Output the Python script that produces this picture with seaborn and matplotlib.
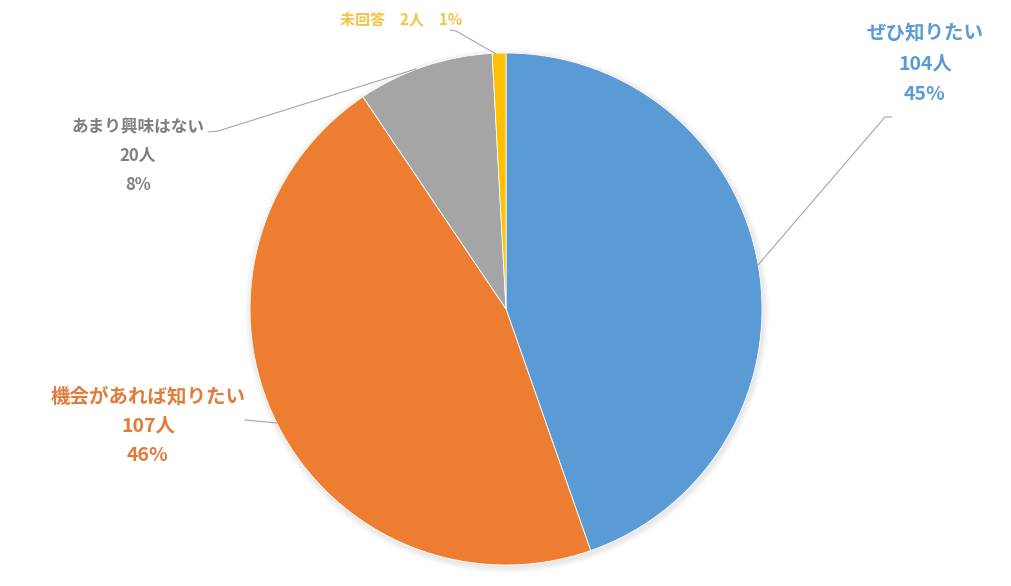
import numpy as np
import matplotlib
matplotlib.use("Agg")
import matplotlib.pyplot as plt
import seaborn as sns
from matplotlib.patches import Circle

categories = ["ぜひ知りたい", "機会があれば知りたい", "あまり興味はない", "未回答"]
counts = [104, 107, 20, 2]
percents = ["45%", "46%", "8%", "1%"]
colors = ["#5B9BD5", "#ED7D31", "#A5A5A5", "#FFC000"]
text_colors = ["#5B9BD5", "#E07B39", "#7F7F7F", "#F5C242"]

sns.set_theme(style="white")
plt.rcParams['font.family'] = ['Noto Sans CJK JP', 'DejaVu Sans']

W, H = 1012, 586
fig = plt.figure(figsize=(W / 100, H / 100), dpi=100)
ax = fig.add_axes([0, 0, 1, 1])

cx, cy, r = 506, H - 309, 256

# soft shadow around the pie
for k in range(8):
    ax.add_patch(Circle((cx + 1, cy - 2), r + 0.5 + k * 0.8, color="black",
                        alpha=0.012, lw=0, zorder=0))

ax.pie(counts, colors=colors, startangle=90, counterclock=False,
       center=(cx, cy), radius=r, frame=True,
       wedgeprops=dict(edgecolor="white", linewidth=0.6, zorder=2))
ax.set_xlim(0, W)
ax.set_ylim(0, H)
ax.set_aspect("equal")
ax.axis("off")

# labels (pixel positions measured from the top)
lab_pos = [(925, 64, 14, 1.75), (148, 426, 14, 1.7), (138, 156, 12, 1.75)]
for i, (x, y, fs, ls) in enumerate(lab_pos):
    ax.text(x, H - y, f"{categories[i]}\n{counts[i]}人\n{percents[i]}",
            ha="center", va="center", fontsize=fs, fontweight="bold",
            color=text_colors[i], linespacing=ls)
ax.text(401, H - 19, f"{categories[3]}　{counts[3]}人　{percents[3]}",
        ha="center", va="center", fontsize=10.8, fontweight="bold",
        color=text_colors[3])

# leader lines
leaders = [
    [(892, 117), (885, 117), (758, 265)],
    [(245, 420), (277, 423)],
    [(208, 132), (218, 131), (416, 69)],
    [(450, 30), (456, 31), (496, 54)],
]
for pts in leaders:
    xs = [p[0] for p in pts]
    ys = [H - p[1] for p in pts]
    ax.plot(xs, ys, color="#A6A6A6", lw=0.8, zorder=3)

fig.savefig("out.png", dpi=100, facecolor="white")
